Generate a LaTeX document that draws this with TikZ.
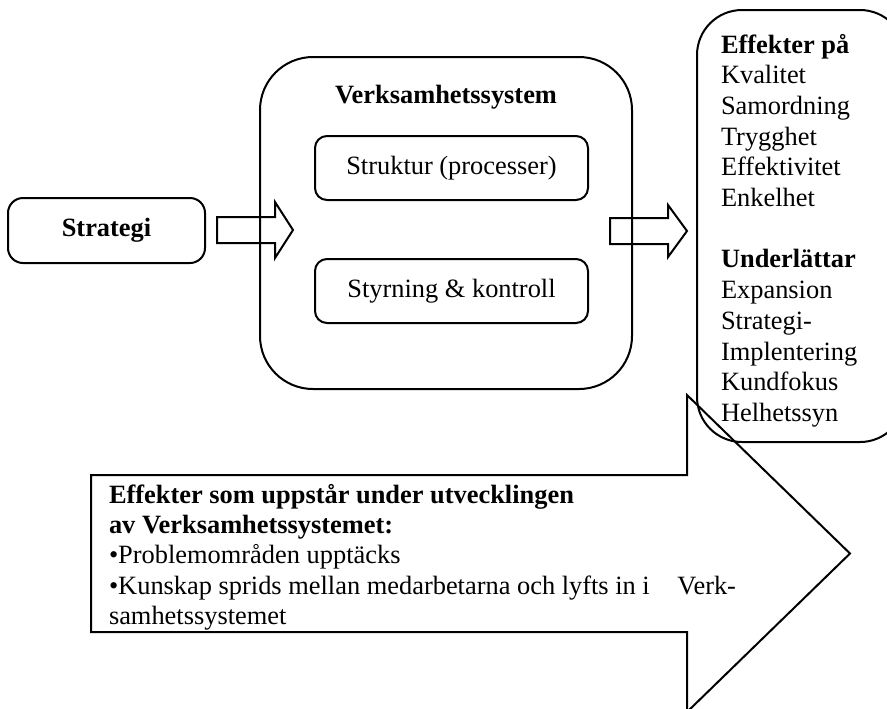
\documentclass[tikz,border=0pt]{standalone}
\usepackage{fontspec}
\setmainfont{Liberation Serif}
\begin{document}
\begin{tikzpicture}[x=0.5pt,y=-0.5pt,line width=1pt,
  every node/.style={font=\fontsize{13.2}{15.35}\selectfont,inner sep=0pt},
  rbox/.style={draw,rounded corners=#1},
  txt/.style={anchor=base west},
  blockarrow/.style={draw,line join=miter}]
\useasboundingbox (0,0) rectangle (887,708);
\clip (0,0) rectangle (887,708);

% input box
\node[rbox=7.5pt,minimum width=98.5pt,minimum height=32.5pt] (strat) at (106.5,230.5) {};
\node[anchor=base] (strattxt) at (106.5,236) {\bfseries Strategi};

% business system with its two parts
\node[rbox=26.5pt,minimum width=186pt,minimum height=166pt] (vs) at (446,223) {};
\node[anchor=base] (vstitle) at (446,103) {\bfseries Verksamhetssystem};
\node[rbox=6pt,minimum width=136.5pt,minimum height=32pt] (struktur) at (451.5,168) {Struktur (processer)};
\node[rbox=6pt,minimum width=136.5pt,minimum height=32pt] (styrning) at (451.5,291) {Styrning \& kontroll};

% effects box on the right
\node[rbox=22.5pt,minimum width=104pt,minimum height=216pt] (eff) at (801,226) {};
\foreach \t [count=\i from 0] in {\textbf{Effekter på},Kvalitet,Samordning,Trygghet,Effektivitet,Enkelhet,{},\textbf{Underlättar},Expansion,Strategi-,Implentering,Kundfokus,Helhetssyn}
  \node[txt] (eff\i) at (720,53+30.7*\i) {\t};

% block arrows between the boxes
\coordinate (a1) at (217,230);
\draw[blockarrow] (a1) ++(0,-13) -- ++(58,0) -- ++(0,-15) -- ++(18,28) -- ++(-18,28) -- ++(0,-15) -- ++(-58,0) -- cycle;
\coordinate (a2) at (610,231);
\draw[blockarrow] (a2) ++(0,-13) -- ++(58,0) -- ++(0,-13) -- ++(19,26) -- ++(-19,26) -- ++(0,-13) -- ++(-58,0) -- cycle;

% large arrow carrying the development effects
\coordinate (b0) at (91,475);
\draw[blockarrow] (b0) -- (687,475) -- (687,395) -- (850,553.5) -- (687,712) -- (687,632) -- (91,632) -- cycle;
\node[txt] (d1) at (108,503) {\bfseries Effekter som uppstår under utvecklingen};
\node[txt] (d2) at (108,533) {\bfseries av Verksamhetssystemet:};
\node[txt] (d3) at (108,563.5) {•Problemområden upptäcks};
\node[txt] (d4) at (108,594) {•Kunskap sprids mellan medarbetarna och lyfts in i};
\node[anchor=base east] (d4b) at (737,594) {Verk-};
\node[txt] (d5) at (108,624.5) {samhetssystemet};
\end{tikzpicture}
\end{document}
